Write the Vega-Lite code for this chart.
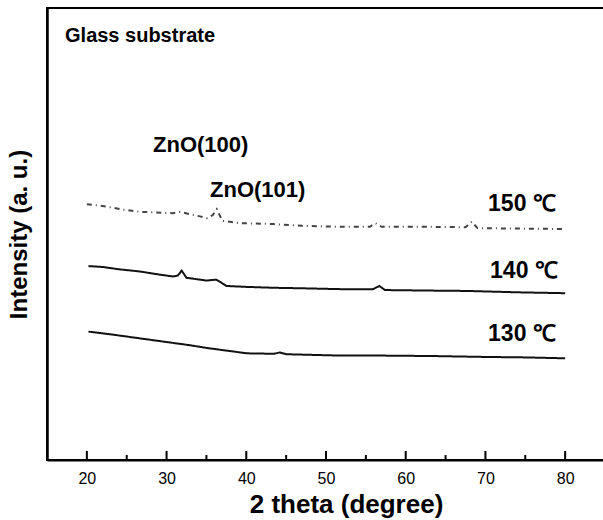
{
  "$schema": "https://vega.github.io/schema/vega-lite/v6.json",
  "autosize": "none",
  "padding": {"left": 47, "top": 8, "right": 0, "bottom": 60},
  "width": 558,
  "height": 452,
  "background": "white",
  "config": {
    "view": {"stroke": "black", "strokeWidth": 2},
    "font": "Liberation Sans",
    "axis": {"grid": false, "domainColor": "black", "tickColor": "black", "labelColor": "black", "titleColor": "black", "labelFont": "Liberation Sans", "titleFont": "Liberation Sans"}
  },
  "datasets": {
    "xrd": [
      {"series": "150", "theta": 20.0, "intensity": 56.6},
      {"series": "150", "theta": 21.5, "intensity": 56.3},
      {"series": "150", "theta": 23.0, "intensity": 55.9},
      {"series": "150", "theta": 24.5, "intensity": 55.4},
      {"series": "150", "theta": 26.7, "intensity": 54.9},
      {"series": "150", "theta": 28.5, "intensity": 54.8},
      {"series": "150", "theta": 30.8, "intensity": 54.6},
      {"series": "150", "theta": 31.7, "intensity": 54.9},
      {"series": "150", "theta": 32.9, "intensity": 54.4},
      {"series": "150", "theta": 34.2, "intensity": 53.9},
      {"series": "150", "theta": 35.1, "intensity": 53.5},
      {"series": "150", "theta": 35.8, "intensity": 54.2},
      {"series": "150", "theta": 36.3, "intensity": 55.5},
      {"series": "150", "theta": 37.0, "intensity": 52.9},
      {"series": "150", "theta": 39.2, "intensity": 52.4},
      {"series": "150", "theta": 43.4, "intensity": 52.2},
      {"series": "150", "theta": 47.0, "intensity": 51.8},
      {"series": "150", "theta": 51.8, "intensity": 51.6},
      {"series": "150", "theta": 55.5, "intensity": 51.6},
      {"series": "150", "theta": 56.2, "intensity": 52.4},
      {"series": "150", "theta": 57.0, "intensity": 51.6},
      {"series": "150", "theta": 62.0, "intensity": 51.6},
      {"series": "150", "theta": 67.5, "intensity": 51.5},
      {"series": "150", "theta": 68.3, "intensity": 52.7},
      {"series": "150", "theta": 69.0, "intensity": 51.3},
      {"series": "150", "theta": 74.0, "intensity": 51.2},
      {"series": "150", "theta": 80.0, "intensity": 51.1},
      {"series": "140", "theta": 20.2, "intensity": 42.9},
      {"series": "140", "theta": 22.0, "intensity": 42.7},
      {"series": "140", "theta": 24.0, "intensity": 42.2},
      {"series": "140", "theta": 26.7, "intensity": 41.7},
      {"series": "140", "theta": 28.8, "intensity": 41.1},
      {"series": "140", "theta": 30.8, "intensity": 40.6},
      {"series": "140", "theta": 31.4, "intensity": 40.8},
      {"series": "140", "theta": 31.9, "intensity": 41.9},
      {"series": "140", "theta": 32.5, "intensity": 40.3},
      {"series": "140", "theta": 33.8, "intensity": 40.0},
      {"series": "140", "theta": 35.0, "intensity": 39.7},
      {"series": "140", "theta": 36.2, "intensity": 39.9},
      {"series": "140", "theta": 36.9, "intensity": 39.2},
      {"series": "140", "theta": 37.5, "intensity": 38.5},
      {"series": "140", "theta": 40.0, "intensity": 38.3},
      {"series": "140", "theta": 43.4, "intensity": 38.1},
      {"series": "140", "theta": 46.7, "intensity": 38.0},
      {"series": "140", "theta": 51.8, "intensity": 37.8},
      {"series": "140", "theta": 55.9, "intensity": 37.8},
      {"series": "140", "theta": 56.7, "intensity": 38.5},
      {"series": "140", "theta": 57.4, "intensity": 37.6},
      {"series": "140", "theta": 62.0, "intensity": 37.5},
      {"series": "140", "theta": 67.7, "intensity": 37.4},
      {"series": "140", "theta": 74.0, "intensity": 37.1},
      {"series": "140", "theta": 80.0, "intensity": 36.9},
      {"series": "130", "theta": 20.2, "intensity": 28.4},
      {"series": "130", "theta": 23.0, "intensity": 27.8},
      {"series": "130", "theta": 26.7, "intensity": 26.9},
      {"series": "130", "theta": 30.0, "intensity": 26.1},
      {"series": "130", "theta": 32.9, "intensity": 25.4},
      {"series": "130", "theta": 35.0, "intensity": 24.8},
      {"series": "130", "theta": 37.1, "intensity": 24.3},
      {"series": "130", "theta": 40.1, "intensity": 23.6},
      {"series": "130", "theta": 43.5, "intensity": 23.5},
      {"series": "130", "theta": 44.2, "intensity": 23.8},
      {"series": "130", "theta": 45.0, "intensity": 23.4},
      {"series": "130", "theta": 51.8, "intensity": 23.1},
      {"series": "130", "theta": 57.0, "intensity": 23.1},
      {"series": "130", "theta": 63.4, "intensity": 23.0},
      {"series": "130", "theta": 70.0, "intensity": 22.8},
      {"series": "130", "theta": 75.0, "intensity": 22.7},
      {"series": "130", "theta": 80.0, "intensity": 22.5}
    ],
    "labels": [
      {"kind": "note", "theta": 17.26, "intensity": 93.8, "text": "Glass substrate"},
      {"kind": "peak", "theta": 28.3, "intensity": 69.7, "text": "ZnO(100)"},
      {"kind": "peak", "theta": 35.45, "intensity": 59.7, "text": "ZnO(101)"},
      {"kind": "temp", "theta": 70.33, "intensity": 56.6, "text": "150 ℃"},
      {"kind": "temp", "theta": 70.58, "intensity": 41.8, "text": "140 ℃"},
      {"kind": "temp", "theta": 70.33, "intensity": 27.9, "text": "130 ℃"}
    ],
    "majorTicks": [{"theta": 20}, {"theta": 30}, {"theta": 40}, {"theta": 50}, {"theta": 60}, {"theta": 70}, {"theta": 80}],
    "minorTicks": [{"theta": 25}, {"theta": 35}, {"theta": 45}, {"theta": 55}, {"theta": 65}, {"theta": 75}]
  },
  "encoding": {
    "x": {"type": "quantitative", "scale": {"domain": [15, 85], "nice": false},
      "axis": {"orient": "bottom", "title": "2 theta (degree)", "values": [20, 30, 40, 50, 60, 70, 80], "ticks": false, "tickSize": 0, "domainWidth": 2, "labelFontSize": 16, "labelPadding": 10, "titleFontSize": 26, "titleFontWeight": "bold", "titlePadding": 5, "titleX": 299, "titleAlign": "center"}},
    "y": {"type": "quantitative", "scale": {"domain": [0, 100], "nice": false},
      "axis": {"title": "Intensity (a. u.)", "labels": false, "ticks": false, "domainWidth": 2.5, "titleFontSize": 24, "titleFontWeight": "bold", "titlePadding": 16}}
  },
  "layer": [
    {
      "data": {"name": "majorTicks"},
      "mark": {"type": "rule", "color": "black", "strokeWidth": 2},
      "encoding": {
        "x": {"field": "theta", "type": "quantitative"},
        "y": {"datum": 0},
        "y2": {"datum": 2}
      }
    },
    {
      "data": {"name": "minorTicks"},
      "mark": {"type": "rule", "color": "black", "strokeWidth": 2},
      "encoding": {
        "x": {"field": "theta", "type": "quantitative"},
        "y": {"datum": 0},
        "y2": {"datum": 1.1}
      }
    },
    {
      "data": {"name": "xrd"},
      "mark": {"type": "line", "interpolate": "linear"},
      "encoding": {
        "x": {"field": "theta", "type": "quantitative"},
        "y": {"field": "intensity", "type": "quantitative"},
        "detail": {"field": "series"},
        "strokeDash": {"field": "series", "type": "nominal", "scale": {"domain": ["130", "140", "150"], "range": [[1, 0], [1, 0], [5, 4, 1, 4]]}, "legend": null},
        "strokeWidth": {"field": "series", "type": "nominal", "scale": {"domain": ["130", "140", "150"], "range": [2, 2, 1.2]}, "legend": null},
        "color": {"field": "series", "type": "nominal", "scale": {"domain": ["130", "140", "150"], "range": ["#111111", "#111111", "#444444"]}, "legend": null}
      }
    },
    {
      "data": {"name": "labels"},
      "transform": [{"filter": "datum.kind === 'note'"}],
      "mark": {"type": "text", "align": "left", "baseline": "middle", "fontWeight": "bold", "fontSize": 20, "color": "black"},
      "encoding": {
        "x": {"field": "theta", "type": "quantitative"},
        "y": {"field": "intensity", "type": "quantitative"},
        "text": {"field": "text"}
      }
    },
    {
      "data": {"name": "labels"},
      "transform": [{"filter": "datum.kind === 'peak'"}],
      "mark": {"type": "text", "align": "left", "baseline": "middle", "fontWeight": "bold", "fontSize": 22, "color": "black"},
      "encoding": {
        "x": {"field": "theta", "type": "quantitative"},
        "y": {"field": "intensity", "type": "quantitative"},
        "text": {"field": "text"}
      }
    },
    {
      "data": {"name": "labels"},
      "transform": [{"filter": "datum.kind === 'temp'"}],
      "mark": {"type": "text", "align": "left", "baseline": "middle", "fontWeight": "bold", "fontSize": 23, "color": "black"},
      "encoding": {
        "x": {"field": "theta", "type": "quantitative"},
        "y": {"field": "intensity", "type": "quantitative"},
        "text": {"field": "text"}
      }
    }
  ]
}
